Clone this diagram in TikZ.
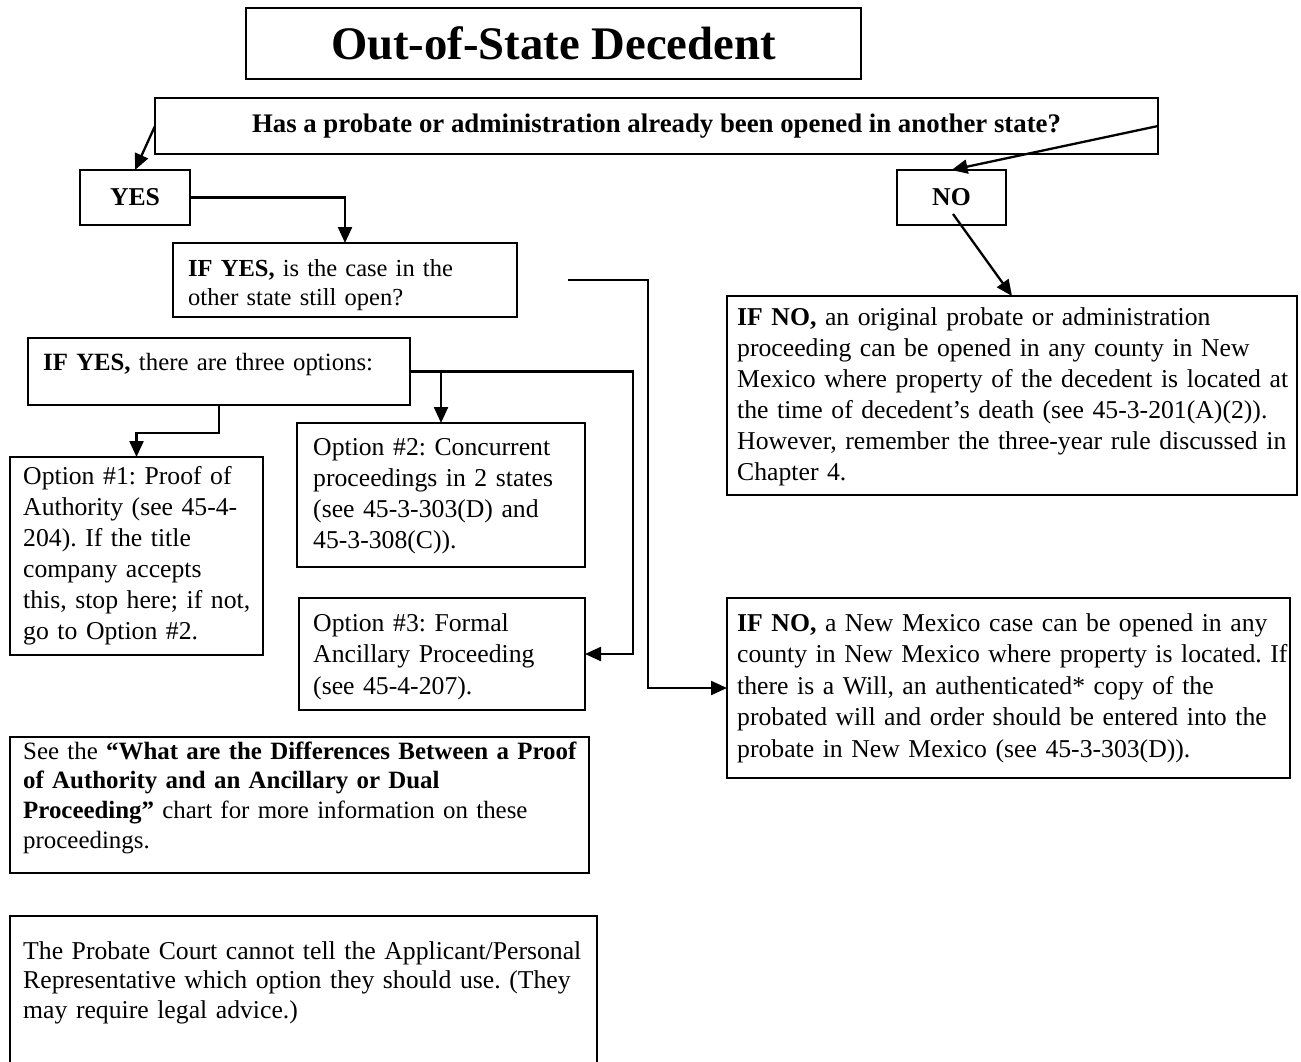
\documentclass[tikz,border=0pt]{standalone}
\usepackage{fontspec}
\setmainfont{Liberation Serif}
\usetikzlibrary{arrows.meta,calc}
\newcommand{\fs}[2]{\fontsize{#1}{#2}\selectfont}
\begin{document}
\frenchspacing
\begin{tikzpicture}[x=1pt,y=-1pt,
  box/.style={draw, line width=1.9pt, inner sep=0pt, outer sep=0pt},
  txt/.style={inner sep=0pt, anchor=base west, text width=900pt, align=left},
  arr/.style={line width=2.3pt, -{Triangle[length=16pt,width=14pt]}}]
\useasboundingbox (0,0) rectangle (1301,1062);
\fill[white] (0,0) rectangle (1301,1062);

% header boxes
\node[box, minimum width=615pt, minimum height=71pt, font=\fs{46.7}{50}\bfseries] (title) at (553.5,43.5) {Out-of-State Decedent};
\node[box, minimum width=1003pt, minimum height=56pt, font=\fs{26.8}{30}\bfseries] (q) at (656.5,126) {Has a probate or administration already been opened in another state?};
\node[box, minimum width=110pt, minimum height=55pt, font=\fs{25.7}{30}\bfseries] (yes) at (135,197.5) {YES};
\node[box, minimum width=109pt, minimum height=55pt, font=\fs{25.7}{30}\bfseries] (no) at (951.5,197.5) {NO};

% frames
\node[box, minimum width=344pt, minimum height=74pt] (casebox) at (345,280) {};
\node[box, minimum width=382pt, minimum height=67pt] (optsbox) at (219,371.5) {};
\node[box, minimum width=253pt, minimum height=198pt] (opt1) at (136.5,556) {};
\node[box, minimum width=288pt, minimum height=144pt] (opt2) at (441,495) {};
\node[box, minimum width=286pt, minimum height=112pt] (opt3) at (442,654) {};
\node[box, minimum width=570pt, minimum height=199pt] (no1) at (1012,395.5) {};
\node[box, minimum width=563pt, minimum height=180pt] (no2) at (1008.5,688) {};
\node[box, minimum width=579pt, minimum height=136pt] (see) at (299.5,805) {};
\node[box, minimum width=587pt, minimum height=220pt] (court) at (303.5,1026) {};

% texts
\node[txt, font=\fs{24.5}{29}] (casetxt) at (188,276) {\textbf{IF YES,} is the case in the\\ other state still open?};
\node[txt, font=\fs{24.8}{29}] (optstxt) at (43,370) {\textbf{IF YES,} there are three options:};
\node[txt, font=\fs{25.7}{31}] (opt1txt) at (23,484) {Option \#1: Proof of\\ Authority (see 45-4-\\ 204). If the title\\ company accepts\\ this, stop here; if not,\\ go to Option \#2.};
\node[txt, font=\fs{25.7}{31}] (opt2txt) at (313,455) {Option \#2: Concurrent\\ proceedings in 2 states\\ (see 45-3-303(D) and\\ 45-3-308(C)).};
\node[txt, font=\fs{25.7}{31.5}] (opt3txt) at (313,631) {Option \#3: Formal\\ Ancillary Proceeding\\ (see 45-4-207).};
\node[txt, font=\fs{25.7}{31}] (no1txt) at (737,325) {\textbf{IF NO,} an original probate or administration\\ proceeding can be opened in any county in New\\ Mexico where property of the decedent is located at\\ the time of decedent’s death (see 45-3-201(A)(2)).\\ However, remember the three-year rule discussed in\\ Chapter 4.};
\node[txt, font=\fs{25.7}{31.5}] (no2txt) at (737,631) {\textbf{IF NO,} a New Mexico case can be opened in any\\ county in New Mexico where property is located. If\\ there is a Will, an authenticated* copy of the\\ probated will and order should be entered into the\\ probate in New Mexico (see 45-3-303(D)).};
\node[txt, font=\fs{24.9}{29.7}] (seetxt) at (23,759) {See the {\bfseries “What are the Differences Between a Proof}\\ {\bfseries of Authority and an Ancillary or Dual}\\ {\bfseries Proceeding”} chart for more information on these\\ proceedings.};
\node[txt, font=\fs{25.7}{29.5}] (courttxt) at (23,959) {The Probate Court cannot tell the Applicant/Personal\\ Representative which option they should use. (They\\ may require legal advice.)};

% connectors
\coordinate (nostart) at (953,214);
\coordinate (caseout) at (568,280);
\draw[arr] (q.west) -- (yes.north);
\draw[arr] (q.east) -- (no.north);
\draw[arr] (yes.east) -| (casebox.north);
\draw[arr] (nostart) -- (no1.north);
\draw[arr] (caseout) -| ([xshift=-79pt]no2.west) -- (no2.west);
\draw[arr] (optsbox.east) -| ([xshift=48pt]opt3.east) -- (opt3.east);
\draw[arr] (optsbox.east -| opt2.north) -- (opt2.north);
\draw[arr] (optsbox.south) -- ++(0,28) -| (opt1.north);
\end{tikzpicture}
\end{document}
